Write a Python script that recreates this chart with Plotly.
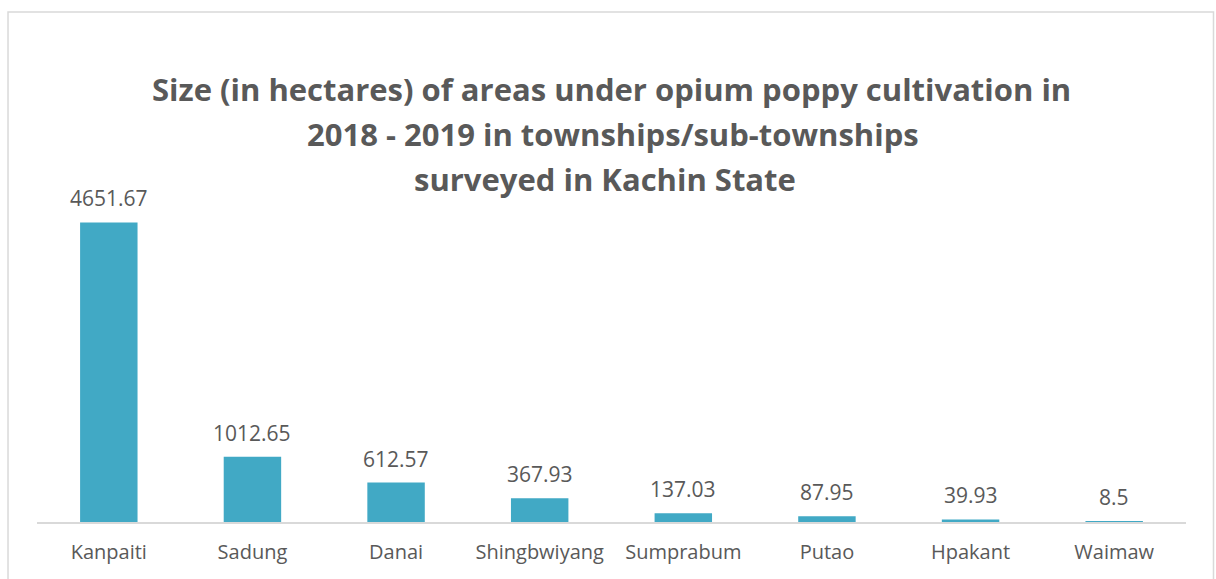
import plotly.graph_objects as go

categories = ["Kanpaiti", "Sadung", "Danai", "Shingbwiyang", "Sumprabum", "Putao", "Hpakant", "Waimaw"]
values = [4651.67, 1012.65, 612.57, 367.93, 137.03, 87.95, 39.93, 8.5]
value_labels = ["4651.67", "1012.65", "612.57", "367.93", "137.03", "87.95", "39.93", "8.5"]
title_lines = [
    "Size (in hectares) of areas under opium poppy cultivation in",
    "2018 - 2019 in townships/sub-townships",
    "surveyed in Kachin State",
]

W, H = 1216, 579
ml, mr, mt, mb = 37, 29.5, 199.5, 56.5
pw = W - ml - mr
ph = H - mt - mb

fig = go.Figure()
fig.add_trace(go.Bar(
    x=categories, y=values,
    marker=dict(color="#41A9C5", line=dict(width=0)),
    hoverinfo="x+y",
))

for c, v, t in zip(categories, values, value_labels):
    fig.add_annotation(x=c, y=v, text=t, showarrow=False, yanchor="bottom",
                       yshift=8, font=dict(family="Open Sans", size=21, color="#595959"))

title_y = [88, 133, 178]
title_x = [612, 613, 605]
for line, py, px in zip(title_lines, title_y, title_x):
    fig.add_annotation(xref="paper", yref="paper",
                       x=(px - ml) / pw, y=(H - mb - py) / ph,
                       text="<b>" + line + "</b>", showarrow=False,
                       xanchor="center", yanchor="middle",
                       font=dict(family="Open Sans", size=31, color="#595959"))

# chart border
fig.add_shape(type="rect", xref="paper", yref="paper",
              x0=(8 - ml) / pw, x1=(1214 - ml) / pw,
              y0=(H - mb - 600) / ph, y1=(H - mb - 11) / ph,
              line=dict(color="#D9D9D9", width=1.5), fillcolor="rgba(0,0,0,0)", layer="below")

fig.update_layout(
    width=W, height=H,
    margin=dict(l=ml, r=mr, t=mt, b=mb, pad=0),
    paper_bgcolor="white", plot_bgcolor="white",
    bargap=0.6,
    showlegend=False,
    xaxis=dict(showline=True, linecolor="#D9D9D9", linewidth=1.5, showgrid=False,
               ticks="", ticklabelstandoff=11,
               tickfont=dict(family="Open Sans", size=20, color="#595959")),
    yaxis=dict(range=[0, 5000], visible=False, showgrid=False, zeroline=False),
)

fig.write_html("out.html", config={"displayModeBar": False},
               post_script="document.body.style.margin='0px';document.body.style.overflow='hidden';")
